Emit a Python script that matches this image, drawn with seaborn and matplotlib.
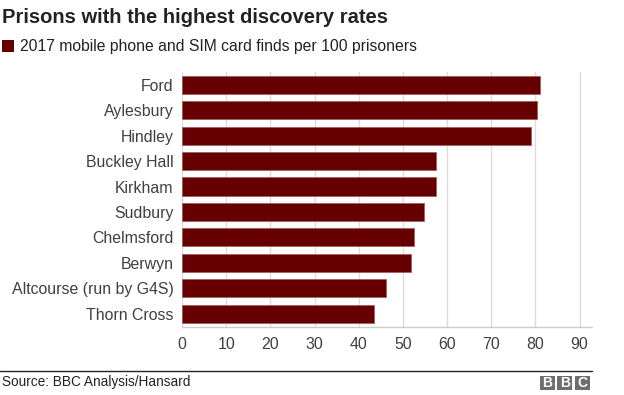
import matplotlib
matplotlib.use("Agg")
import matplotlib.pyplot as plt
import pandas as pd
import seaborn as sns
from matplotlib.patches import Rectangle

# Data
prisons = ["Ford", "Aylesbury", "Hindley", "Buckley Hall", "Kirkham", "Sudbury",
           "Chelmsford", "Berwyn", "Altcourse (run by G4S)", "Thorn Cross"]
finds = [81.1, 80.4, 79.0, 57.4, 57.4, 54.7, 52.5, 51.8, 46.1, 43.4]
xticks = [0, 10, 20, 30, 40, 50, 60, 70, 80, 90]

df = pd.DataFrame({"prison": prisons, "finds": finds})

sns.set_style("white")
plt.rcParams["font.family"] = ["Liberation Sans", "DejaVu Sans"]

bar_col = "#660000"
txt_col = "#404040"

fig = plt.figure(figsize=(6.24, 3.95), dpi=100)
ax = fig.add_axes([0.2917, 0.1722, 0.6570, 0.6455])

sns.barplot(data=df, x="finds", y="prison", color=bar_col, width=0.71,
            edgecolor="#a06060", linewidth=0.6, saturation=1, ax=ax, zorder=3)

ax.set_xlim(0, 92.8)
ax.set_ylim(9.52, -0.5)
ax.set_xticks(xticks)
ax.set_xticklabels([str(t) for t in xticks])
ax.xaxis.grid(True, color="#dcdcdc", linewidth=1, zorder=0)
ax.set_axisbelow(True)
ax.set_xlabel("")
ax.set_ylabel("")
for s in ["top", "right", "left"]:
    ax.spines[s].set_visible(False)
ax.spines["bottom"].set_color("#cccccc")
ax.spines["bottom"].set_linewidth(1)
ax.tick_params(axis="both", length=0, labelsize=11.4, labelcolor=txt_col, pad=6)
ax.tick_params(axis="x", pad=7)

# Title and legend
fig.text(0.003, 0.955, "Prisons with the highest discovery rates", fontsize=14.5,
         fontweight="bold", color="#222222", va="center", ha="left")
fig.patches.append(Rectangle((0.003, 0.868), 0.019, 0.030, transform=fig.transFigure,
                             facecolor=bar_col, edgecolor="none"))
fig.text(0.032, 0.883, "2017 mobile phone and SIM card finds per 100 prisoners",
         fontsize=11.3, color="#222222", va="center", ha="left")

# Footer
fig.add_artist(plt.Line2D([0, 0.9487], [0.060, 0.060], transform=fig.transFigure,
                          color="#222222", linewidth=1))
fig.text(0.003, 0.033, "Source: BBC Analysis/Hansard", fontsize=9.8, color="#222222",
         va="center", ha="left")
for i, letter in enumerate("BBC"):
    x0 = 0.8654 + i * 0.0277
    fig.patches.append(Rectangle((x0, 0.0127), 0.024, 0.036, transform=fig.transFigure,
                                 facecolor="#6e6e6e", edgecolor="none"))
    fig.text(x0 + 0.012, 0.031, letter, fontsize=10, fontweight="bold", color="white",
             ha="center", va="center")

fig.savefig("out.png", dpi=100)
